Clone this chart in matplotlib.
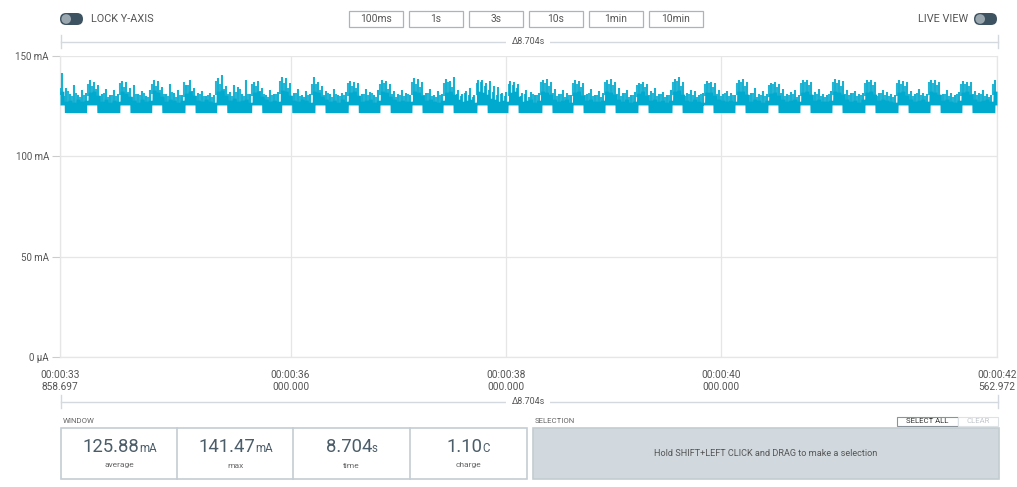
import numpy as np
import matplotlib
matplotlib.use("Agg")
import matplotlib.pyplot as plt
from matplotlib.patches import FancyBboxPatch, Rectangle, Circle

plt.rcParams['font.family'] = ['Roboto', 'DejaVu Sans']

# ---- data -------------------------------------------------------------
window_start_s = 33.858697
window_len_s = 8.704275

y_ticks_ma = [0, 50, 100, 150]
y_tick_labels = ['0 µA', '50 mA', '100 mA', '150 mA']
x_ticks_s = [33.858697, 36.0, 38.0, 40.0, 42.562972]
x_tick_labels = ['00:00:33\n858.697', '00:00:36\n000.000', '00:00:38\n000.000',
                 '00:00:40\n000.000', '00:00:42\n562.972']

zoom_buttons = ['100ms', '1s', '3s', '10s', '1min', '10min']
delta_label = 'Δ8.704s'

stat_values = ['125.88', '141.47', '8.704', '1.10']
stat_units = ['mA', 'mA', 's', 'C']
stat_names = ['average', 'max', 'time', 'charge']

# radio bursts: raised-current windows, seconds from window start
raised_start_s = [0.000, 0.248, 0.557, 0.852, 1.161, 1.456, 1.781, 2.059, 2.369, 2.678,
                  2.973, 3.270, 3.558, 3.874, 4.162, 4.477, 4.765, 5.063, 5.369, 5.685,
                  5.973, 6.270, 6.577, 6.874, 7.171, 7.478, 7.785, 8.082, 8.379, 8.685]
raised_end_s = [0.040, 0.341, 0.650, 0.946, 1.254, 1.549, 1.874, 2.152, 2.462, 2.771,
                3.066, 3.363, 3.651, 3.967, 4.255, 4.570, 4.858, 5.156, 5.462, 5.778,
                6.066, 6.363, 6.670, 6.967, 7.264, 7.571, 7.878, 8.175, 8.472, 8.704]
floor_low_ma = 121.8
floor_high_ma = 125.6

# per-bin values (mA) over evenly spaced bins across the window:
# top of the dense band, tallest spike, and second spike of each bin
band_top_ma = [
    132.5, 127.5, 128.0, 127.0, 128.5, 127.5, 128.0,
    132.0, 132.5, 130.5, 127.5, 128.5, 127.0, 128.0, 127.5,
    132.5, 131.5, 130.0, 128.0, 127.0, 128.5, 127.5, 128.0,
    133.0, 132.0, 130.0, 127.5, 128.5, 128.0, 127.0, 128.0,
    131.5, 132.5, 130.5, 128.0, 127.5, 128.5, 127.5, 127.0,
    132.5, 133.0, 130.5, 128.0, 129.0, 127.5, 128.0, 128.5, 127.0,
    132.0, 132.5, 130.0, 128.5, 127.5, 128.0, 127.5,
    133.0, 132.5, 130.5, 128.0, 127.5, 128.5, 128.0, 127.0,
    132.5, 132.0, 130.0, 128.5, 127.5, 128.0, 127.0, 128.5, 127.5,
    132.0, 132.5, 130.5, 127.5, 128.0, 128.5, 127.0, 128.0,
    132.5, 132.0, 130.0, 128.5, 127.5, 128.0, 127.5, 127.5,
    132.5, 132.0, 130.5, 128.0, 128.5, 127.5, 127.0, 128.0,
    132.0, 132.5, 131.0, 128.5, 127.5, 128.0, 128.5, 127.0,
    132.5, 132.0, 131.0, 129.0, 128.5, 127.5, 128.0, 127.5,
    132.0, 132.5, 130.0, 127.5, 128.0, 128.5, 127.0, 128.0,
    132.5, 132.0, 131.0, 128.5, 127.5, 128.0, 128.5, 127.0,
    132.0, 132.5, 130.5, 128.0, 128.5, 127.5, 127.5, 128.0,
    132.5, 132.0, 131.0, 128.5, 127.5, 128.5, 127.0, 127.5,
    131.5, 132.5, 130.5, 128.0, 128.5, 127.5, 128.0, 127.0, 128.0,
    132.5, 133.0, 131.0, 128.0, 127.5, 128.5, 127.5, 127.0,
    132.0, 132.0, 130.5, 128.5, 128.0, 127.5, 128.0, 127.5,
    132.5, 132.5, 131.0, 127.5, 128.5, 128.0, 127.0, 128.0,
    131.5, 132.0, 130.5, 128.5, 127.5, 128.0, 128.5, 127.5,
    132.0, 132.5, 131.0, 128.0, 128.5, 127.5, 127.5, 128.0,
    132.5, 132.0, 131.0, 128.5, 127.5, 128.0, 127.0, 128.5,
    132.0, 132.5, 131.0, 128.0, 128.5, 128.0, 127.5, 127.0,
    132.0, 132.5, 130.5, 128.5, 127.5, 128.0, 128.5, 127.5,
    132.5, 132.0, 131.0, 128.0, 128.5, 127.5, 127.0, 128.0,
    132.0, 132.5, 131.0, 128.5, 127.5, 128.0, 128.5, 127.5,
    132.5,
]
peak_ma = [
    141.47, 134.0, 131.0, 135.5, 130.5, 133.0, 131.5,
    138.0, 137.0, 135.5, 131.0, 133.5, 130.5, 133.0, 131.0,
    137.5, 137.0, 134.0, 135.5, 131.0, 132.5, 130.0, 133.0,
    138.0, 137.5, 134.5, 131.0, 136.0, 131.5, 133.0, 130.5,
    135.5, 138.0, 134.0, 131.5, 132.5, 130.0, 131.5, 130.5,
    139.0, 140.5, 135.0, 132.0, 135.5, 134.5, 131.0, 138.0, 131.0,
    137.0, 137.5, 134.0, 130.5, 133.0, 131.0, 132.0,
    139.5, 139.0, 136.5, 131.5, 133.5, 130.5, 132.5, 131.0,
    139.5, 137.0, 135.0, 132.5, 131.0, 133.5, 130.5, 131.5, 132.0,
    137.5, 137.0, 136.5, 131.0, 133.5, 132.0, 130.5, 133.0,
    138.0, 137.5, 136.0, 132.5, 131.0, 133.0, 131.5, 130.5,
    139.0, 138.5, 137.0, 131.5, 133.5, 130.5, 132.5, 131.0,
    138.5, 137.5, 139.5, 133.0, 131.0, 132.5, 134.0, 130.5,
    138.0, 138.0, 136.5, 137.5, 135.0, 134.5, 131.5, 132.0,
    137.5, 137.0, 136.0, 131.5, 133.0, 132.0, 130.5, 131.5,
    138.0, 138.5, 137.0, 133.5, 131.0, 133.0, 131.5, 130.5,
    138.0, 137.5, 136.5, 131.0, 133.5, 130.5, 132.5, 131.5,
    138.0, 138.5, 137.0, 134.0, 131.5, 133.0, 130.5, 132.0,
    136.5, 137.0, 136.0, 132.5, 134.0, 131.0, 132.0, 130.5, 133.0,
    138.5, 139.5, 137.0, 131.5, 133.0, 132.5, 130.5, 131.5,
    137.5, 137.0, 136.5, 133.0, 131.0, 132.5, 131.5, 130.5,
    138.0, 138.5, 137.0, 131.5, 134.0, 131.0, 132.5, 131.0,
    136.5, 137.0, 136.0, 133.5, 131.0, 132.0, 133.0, 130.5,
    138.0, 138.0, 137.0, 132.0, 133.5, 131.0, 130.5, 132.5,
    138.5, 138.0, 137.5, 133.0, 131.5, 132.5, 131.0, 131.5,
    138.0, 138.0, 137.0, 131.5, 133.0, 132.0, 131.0, 130.5,
    138.0, 137.5, 137.0, 132.5, 131.0, 133.5, 131.5, 131.0,
    138.0, 138.0, 137.0, 131.0, 133.0, 131.5, 130.5, 132.0,
    137.5, 137.0, 137.0, 132.5, 131.5, 133.0, 131.0, 130.5,
    138.0,
]
second_peak_ma = [
    134.0, 130.0, 132.5, 130.0, 131.5, 129.5, 130.5,
    136.0, 135.0, 133.5, 130.0, 131.5, 129.5, 130.5, 130.0,
    136.5, 134.5, 132.0, 129.5, 131.0, 130.5, 131.5, 129.5,
    136.0, 135.0, 133.0, 131.0, 130.0, 132.0, 129.5, 130.5,
    137.0, 135.5, 132.5, 130.0, 131.0, 130.0, 130.5, 129.5,
    137.5, 136.0, 133.5, 131.0, 130.0, 132.0, 133.5, 130.0, 131.0,
    136.0, 135.0, 132.5, 131.0, 129.5, 130.5, 131.0,
    137.5, 136.5, 134.0, 130.0, 131.5, 130.0, 129.5, 130.5,
    136.0, 136.0, 133.0, 130.5, 131.5, 129.5, 131.0, 130.0, 130.5,
    136.5, 135.0, 134.0, 130.0, 131.0, 130.5, 131.5, 129.5,
    136.0, 136.5, 133.5, 131.0, 129.5, 130.5, 130.0, 131.0,
    137.0, 136.0, 134.5, 130.5, 131.5, 130.0, 129.5, 130.5,
    136.5, 137.0, 134.5, 131.0, 130.0, 131.5, 130.5, 129.5,
    136.5, 137.0, 135.0, 133.0, 132.0, 130.5, 131.0, 130.0,
    136.0, 135.5, 134.0, 130.0, 131.0, 129.5, 131.0, 130.5,
    137.0, 136.5, 135.0, 131.5, 130.0, 131.0, 129.5, 130.5,
    136.5, 136.0, 134.5, 130.5, 131.5, 130.0, 130.5, 129.5,
    137.0, 136.0, 135.5, 131.0, 130.0, 131.5, 129.5, 130.5,
    135.5, 136.0, 134.5, 130.5, 131.5, 130.0, 131.0, 129.5, 130.5,
    137.0, 137.5, 135.0, 130.0, 131.0, 130.5, 129.5, 131.0,
    136.0, 136.5, 134.5, 131.0, 130.0, 131.5, 130.0, 130.5,
    136.5, 137.0, 135.0, 130.5, 131.5, 129.5, 130.5, 130.0,
    135.5, 136.0, 134.5, 131.5, 130.0, 130.5, 131.0, 129.5,
    136.5, 137.0, 135.5, 130.5, 131.0, 130.0, 129.5, 131.0,
    137.0, 136.5, 135.0, 131.0, 130.5, 131.5, 130.0, 130.5,
    136.5, 137.0, 135.5, 130.0, 131.5, 130.5, 130.0, 129.5,
    136.5, 136.0, 135.0, 131.0, 130.0, 131.5, 130.5, 130.0,
    137.0, 136.5, 135.5, 130.5, 131.0, 130.0, 129.5, 131.0,
    136.0, 136.0, 135.0, 131.0, 130.5, 131.0, 130.0, 129.5,
    136.0,
]

# ---- style ------------------------------------------------------------
W, H = 1017, 487
TRACE = '#00a9ce'
TEXT = '#555555'
GRID = '#e6e6e6'
RULE = '#d3d9de'
SLATE = '#3e5361'

fig = plt.figure(figsize=(W / 100, H / 100), dpi=100)
fig.patch.set_facecolor('white')

# full-figure overlay in pixel units (y grows downward)
ui = fig.add_axes([0, 0, 1, 1], zorder=0)
ui.set_xlim(0, W)
ui.set_ylim(H, 0)
ui.axis('off')


def toggle(x, y):
    ui.add_patch(FancyBboxPatch((x, y), 23, 12, boxstyle='round,pad=0,rounding_size=6',
                                fc=SLATE, ec='none'))
    ui.add_patch(Circle((x + 6.2, y + 6), 4.8, fc='#9aa7af', ec='none'))


toggle(60, 13)
ui.text(91, 19, 'LOCK Y-AXIS', fontsize=7.8, color=TEXT, ha='left', va='center')
toggle(974, 13)
ui.text(968, 19, 'LIVE VIEW', fontsize=7.8, color=TEXT, ha='right', va='center')

# zoom buttons
bx = 348.5
for lab in zoom_buttons:
    ui.add_patch(Rectangle((bx, 11), 54, 16, fc='white', ec='#aab4ba', lw=0.9))
    ui.text(bx + 27, 19.2, lab, fontsize=7.4, color=TEXT, ha='center', va='center')
    bx += 60.1


def ruler(y):
    ui.plot([60.5, 997.5], [y, y], color=RULE, lw=1)
    ui.plot([60.5, 60.5], [y - 7, y + 6], color=RULE, lw=1)
    ui.plot([997.5, 997.5], [y - 7, y + 6], color=RULE, lw=1)
    ui.text(528, y, delta_label, fontsize=6.4, color=TEXT, ha='center', va='center',
            bbox=dict(fc='white', ec='none', pad=3.5))


ruler(41.5)
ruler(402)

# ---- current chart ----------------------------------------------------
ax = fig.add_axes([60 / W, (H - 357) / H, 937 / W, 301 / H], zorder=2)
ax.set_facecolor('none')
t0, t1 = window_start_s, window_start_s + window_len_s
ax.set_xlim(t0, t1)
ax.set_ylim(0, 150)

band = np.asarray(band_top_ma)
peaks = np.asarray(peak_ma)
peaks2 = np.asarray(second_peak_ma)
n = len(peaks)
bin_w = window_len_s / n

t_fine = np.linspace(0, window_len_s, 6000)
raised = np.zeros_like(t_fine, dtype=bool)
for a, b in zip(raised_start_s, raised_end_s):
    raised |= (t_fine >= a) & (t_fine <= b)
lower = np.where(raised, floor_high_ma, floor_low_ma)
bin_idx = np.minimum((t_fine / bin_w).astype(int), n - 1)
upper = band[bin_idx]
ax.fill_between(t0 + t_fine, lower, upper, color=TRACE, lw=0, zorder=3)

t_centres = (np.arange(n) + 0.5) * bin_w
t_edges = np.arange(n) * bin_w + 0.02 * bin_w
ax.vlines(t0 + t_centres, band - 2, peaks, color=TRACE, lw=1.5, alpha=0.9, zorder=3)
ax.vlines(t0 + t_edges, band - 2, peaks2, color=TRACE, lw=1.5, alpha=0.85, zorder=3)

ax.set_yticks(y_ticks_ma)
ax.set_yticklabels(y_tick_labels)
ax.set_xticks(x_ticks_s)
ax.set_xticklabels(x_tick_labels, linespacing=1.25)
ax.tick_params(axis='y', length=6, width=0.8, color='#cccccc', pad=2,
               labelsize=7, labelcolor=TEXT)
ax.tick_params(axis='x', length=0, pad=9, labelsize=7.3, labelcolor=TEXT)
ax.grid(True, color=GRID, lw=0.9, zorder=0)
for s in ax.spines.values():
    s.set_color(GRID)
    s.set_linewidth(0.9)
ax.spines['top'].set_visible(False)

# ---- window statistics --------------------------------------------------
ui.text(63, 421, 'WINDOW', fontsize=5.6, color='#666666', ha='left', va='center')
ui.add_patch(Rectangle((61, 428), 465.5, 51, fc='white', ec='#c5cdd3', lw=1.2))
for xd in (177.3, 293.3, 410):
    ui.plot([xd, xd], [428, 479], color='#c5cdd3', lw=1.2)
cell_cx = [119.2, 235.3, 351.7, 468.2]

fig.canvas.draw()
renderer = fig.canvas.get_renderer()
for cx, val, unit, name in zip(cell_cx, stat_values, stat_units, stat_names):
    tv = ui.text(0, 452.5, val, fontsize=13.3, color='#4b5d69', ha='left', va='baseline')
    tu = ui.text(0, 452.5, unit, fontsize=8.3, color='#4b5d69', ha='left', va='baseline')
    wv = tv.get_window_extent(renderer).width
    wu = tu.get_window_extent(renderer).width
    left = cx - (wv + wu) / 2
    tv.set_x(left)
    tu.set_x(left + wv)
    ui.text(cx, 465.5, name, fontsize=6, color='#666666', ha='center', va='center')

# ---- selection panel ------------------------------------------------------
ui.text(535, 421, 'SELECTION', fontsize=5.6, color='#666666', ha='left', va='center')
ui.add_patch(Rectangle((897, 416.5), 61, 9.5, fc='white', ec='#8a9399', lw=0.8))
ui.text(927.5, 421.3, 'SELECT ALL', fontsize=5.6, color='#333333', ha='center', va='center')
ui.add_patch(Rectangle((958, 416.5), 40, 9.5, fc='white', ec='#dde2e5', lw=0.8))
ui.text(978, 421.3, 'CLEAR', fontsize=5.6, color='#c2c8cc', ha='center', va='center')
ui.add_patch(Rectangle((533, 428), 465.5, 51, fc='#d1d9de', ec='#c3ccd1', lw=1.2))
ui.text(765.8, 453.3, 'Hold SHIFT+LEFT CLICK and DRAG to make a selection',
        fontsize=6.6, color='#555555', ha='center', va='center')

fig.savefig('out.png', dpi=100, facecolor='white')
